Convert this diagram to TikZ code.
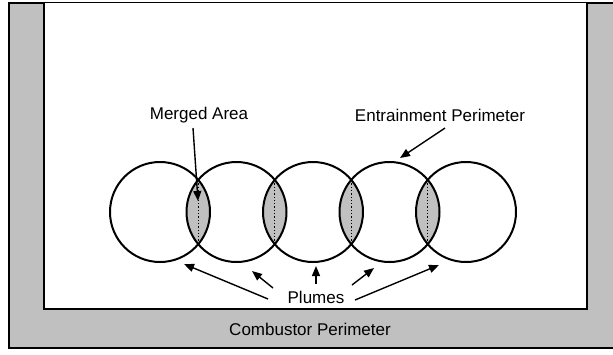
\documentclass[tikz,border=0pt]{standalone}
\usepackage{fontspec}
\setmainfont{Liberation Sans}
\usetikzlibrary{arrows.meta,calc}
\definecolor{wallgray}{HTML}{C0C0C0}
\definecolor{lensgray}{HTML}{C0C0C0}
\tikzset{
  lbl/.style={font=\fontsize{17}{19}\selectfont, inner sep=0pt},
  plume/.style={circle, draw, line width=2pt, minimum size=100pt, inner sep=0pt},
  arr/.style={line width=1.4pt, -{Triangle[length=10pt,width=8pt]}},
  wall/.style={draw, line width=2pt}
}
\begin{document}
\begin{tikzpicture}[x=1pt,y=-1pt]
\useasboundingbox (0,0) rectangle (613,354);
% walls
\fill[wallgray] (9,3) rectangle (620,348);
\draw[wall] (620,3) -- (9,3) -- (9,348) -- (620,348);
\fill[white] (44,3) rectangle (587,309);
\draw[wall] (44,3) -- (44,309) -- (587,309) -- (587,3);
% plume centres
\foreach \i/\x in {1/160,2/236.5,3/313,4/389.5,5/466}{
  \coordinate (c\i) at (\x,212);
}
% merged lenses
\foreach \i/\j in {1/2,2/3,3/4,4/5}{
  \begin{scope}
    \clip (c\i) circle (50);
    \fill[lensgray] (c\j) circle (50);
  \end{scope}
  \draw[dotted, line width=1.3pt] ($(c\i)!0.5!(c\j)+(0,-32)$) -- ($(c\i)!0.5!(c\j)+(0,32)$);
}
\foreach \i in {1,...,5}{
  \node[plume] (p\i) at (c\i) {};
}
% labels
\node[lbl] (merged) at (199,115) {Merged Area};
\node[lbl] (entr) at (440,115) {Entrainment Perimeter};
\node[lbl] (plumes) at (316,297) {Plumes};
\node[lbl] (comb) at (310,329) {Combustor Perimeter};
% arrow end points
\coordinate (m0) at (193,128);
\coordinate (m1) at (198,201);
\coordinate (e0) at (445,128);
\coordinate (e1) at (400,158);
\coordinate (a0) at (268,299); \coordinate (a1) at (184,264);
\coordinate (b0) at (273,288); \coordinate (b1) at (252,271);
\coordinate (d0) at (316,284); \coordinate (d1) at (316,266);
\coordinate (f0) at (352,285); \coordinate (f1) at (374,268);
\coordinate (g0) at (355,300); \coordinate (g1) at (439,265);
\draw[arr] (m0) -- (m1);
\draw[arr] (e0) -- (e1);
\draw[arr] (a0) -- (a1);
\draw[arr] (b0) -- (b1);
\draw[arr] (d0) -- (d1);
\draw[arr] (f0) -- (f1);
\draw[arr] (g0) -- (g1);
\end{tikzpicture}
\end{document}
